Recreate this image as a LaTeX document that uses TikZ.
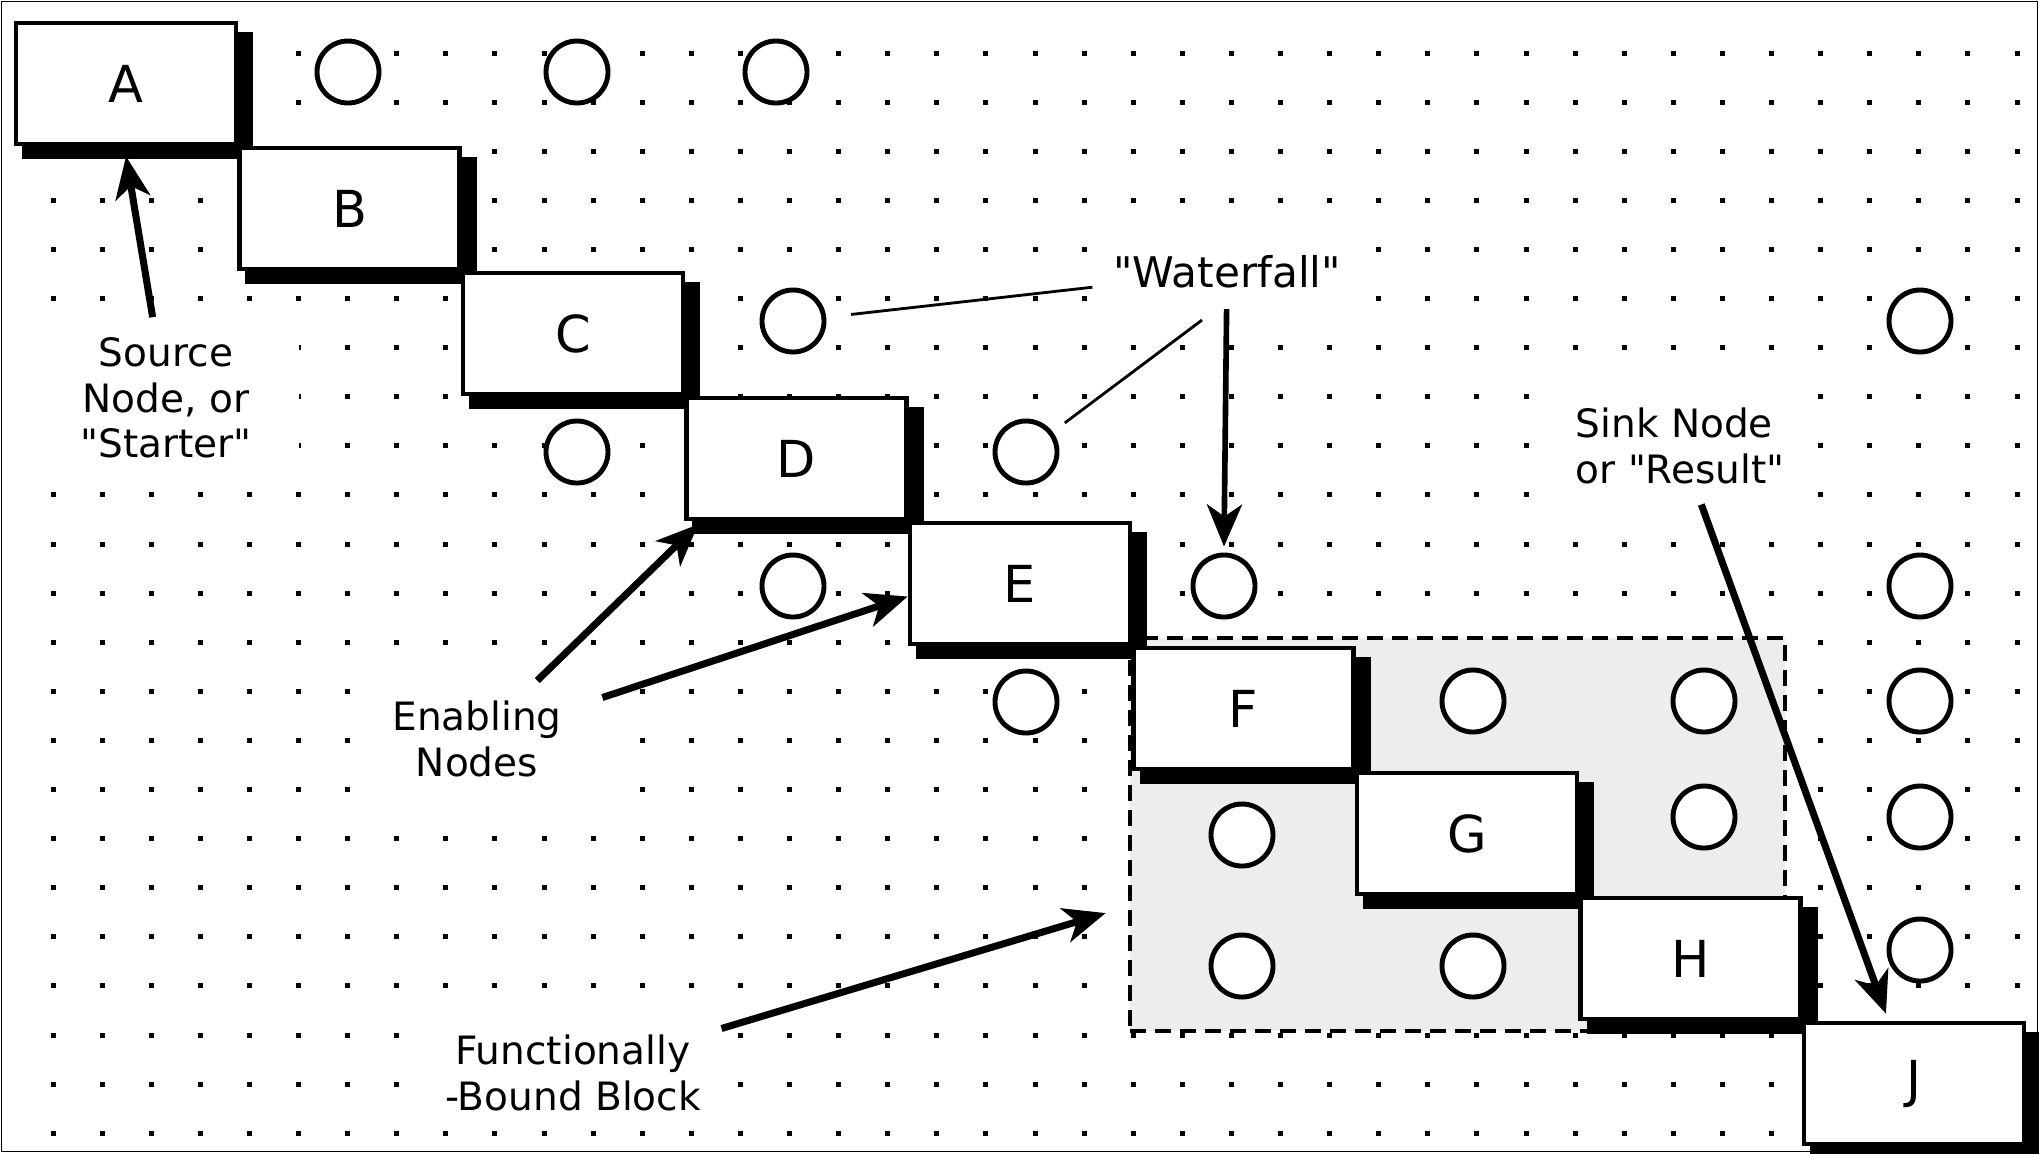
\documentclass[tikz,border=0pt]{standalone}
\usepackage{fontspec}
\setmainfont{DejaVu Sans}[Ligatures=TeXOff]
\usetikzlibrary{shadows,arrows.meta}
\definecolor{blockgray}{gray}{0.93}
\newcommand{\notefont}{\fontsize{11.1pt}{12.9pt}\selectfont}
\newcommand{\boxfont}{\fontsize{14.5pt}{17pt}\selectfont}

\begin{document}
\begin{tikzpicture}[x=0.01cm, y=-0.01cm,
    taskbox/.style = {shape=rectangle, draw, line width=1.3pt, fill=white,
        minimum width=2.2cm, minimum height=1.21cm, inner sep=0pt, font=\boxfont,
        drop shadow={opacity=1, fill=black, shadow xshift=0.11cm,
                     shadow yshift=-0.11cm, shadow scale=1.05}},
    enabler/.style = {shape=circle, draw, line width=1.4pt, fill=white,
        minimum size=0.62cm, inner sep=0pt},
    note/.style = {fill=white, inner sep=0.2cm, align=center, font=\notefont},
    bound/.style = {shape=rectangle, draw, fill=blockgray, line width=1.2pt,
        dash pattern=on 1.6mm off 0.9mm, inner sep=0pt},
    pointer/.style = {line width=2pt,
        -{Stealth[length=4.2mm, width=3.5mm, inset=1.2mm]}},
    lead/.style = {line width=0.8pt}]
  \useasboundingbox (0,0) rectangle (2039,1153);

  % dot grid
  \foreach \i in {0,...,40}
    \foreach \j in {0,...,22}
      \fill ({50.5+49.1*\i},{50.5+49.1*\j}) rectangle ++(5,5);

  \node[bound, minimum width=6.55cm, minimum height=3.93cm] (blk) at (1457.5,834.5) {};

  % the staircase of tasks
  \foreach \tsk [count=\k from 0] in {A,B,C,D,E,F,G,H,J}
    \node[taskbox] (\tsk) at ({126+223.5*\k},{83.5+125*\k}) {\tsk};

  \foreach \nm/\x/\y in {t1/348/72, t2/577/72, t3/776/72,
      c1/793/321, r1/1920/321, c2/577/452, c3/1026/452,
      c4/793/586, c5/1224/586, r2/1920/586,
      c6/1026/702, b1/1473/701, b2/1704/701, r3/1920/701,
      b3/1242/835, b4/1704/817, r4/1920/817,
      b5/1242/966, b6/1473/966, r5/1920/950}
    \node[enabler] (\nm) at (\x,\y) {};

  \node[note, inner xsep=0.47cm] (src) at (166,398) {Source\\Node, or\\"Starter"};
  \node[note, inner xsep=0.4cm] (enab) at (477,739) {Enabling\\Nodes};
  \node[note] (fbb) at (573,1073) {Functionally\\-Bound Block};
  \node[note, align=left, anchor=west] (sink) at (1555,446) {Sink Node\\or "Result"};
  \node[note, font=\fontsize{12pt}{14pt}\selectfont] (wf) at (1227,272) {"Waterfall"};

  \draw[pointer] (src) -- ([yshift=-0.1cm]A.south);
  \draw[pointer] (enab) -- ([shift={(0.14cm,-0.03cm)}]D.south west);
  \draw[pointer] (enab) -- ([yshift=-0.13cm]E.west);
  \draw[pointer] (fbb) -- ([shift={(-0.22cm,-0.785cm)}]blk.west);
  \draw[pointer] (sink) -- ([shift={(-0.28cm,0.07cm)}]J.north);
  \draw[pointer, line width=1.6pt] (wf) -- ([yshift=0.06cm]c5.north);
  \draw[lead, shorten <=0.25cm] (c1) -- (wf);
  \draw[lead, shorten <=0.15cm] (c3) -- ([shift={(-0.25cm,-0.11cm)}]wf.south);

  \draw[line width=0.55pt] (1.5,1.5) rectangle (2037.5,1151.5);
\end{tikzpicture}
\end{document}
